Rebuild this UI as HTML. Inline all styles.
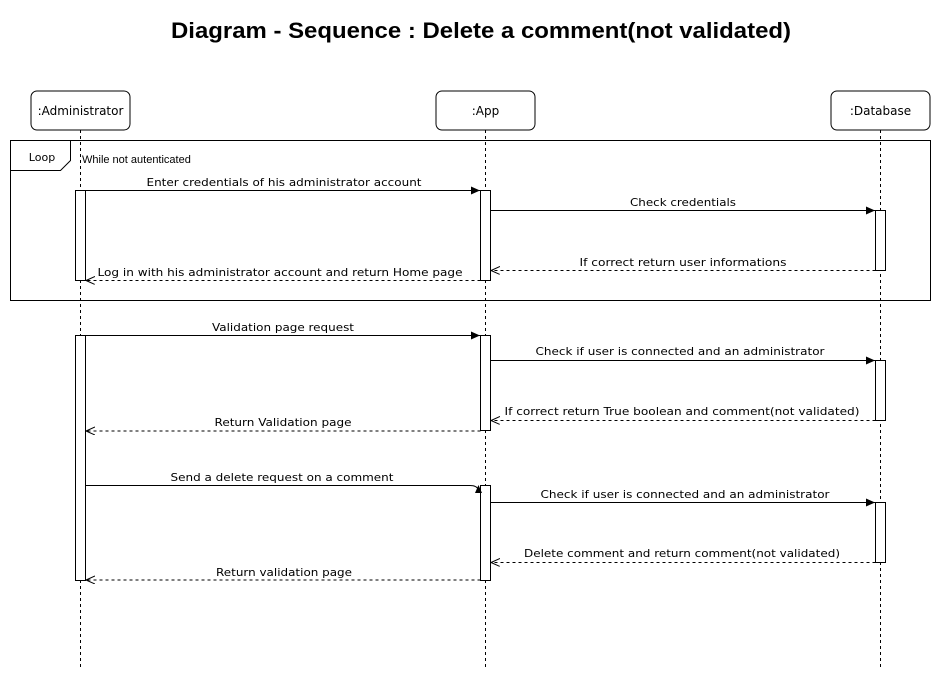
<!DOCTYPE html>
<html><head><style>body{margin:0;background:#fff}svg{display:block}</style></head><body>
<svg width="941" height="681" xmlns="http://www.w3.org/2000/svg" font-family="DejaVu Sans, Verdana, sans-serif" font-size="11">
<defs>
<marker id="f" markerWidth="10" markerHeight="10" refX="9" refY="4" orient="auto" markerUnits="userSpaceOnUse"><path d="M0,0 L9,4 L0,8 Z" fill="#000"/></marker>
<marker id="o" markerWidth="10" markerHeight="10" refX="9" refY="4" orient="auto" markerUnits="userSpaceOnUse"><path d="M0,0 L9,4 L0,8" fill="none" stroke="#000"/></marker>
</defs>
<text x="481" y="38" text-anchor="middle" font-family="Liberation Sans, Arial, sans-serif" font-weight="bold" font-size="22" textLength="620" lengthAdjust="spacingAndGlyphs">Diagram - Sequence : Delete a comment(not validated)</text>
<g fill="#fff" stroke="#000">
<rect x="31" y="91" width="99" height="39" rx="6"/>
<rect x="436" y="91" width="99" height="39" rx="6"/>
<rect x="831" y="91" width="99" height="39" rx="6"/>
</g>
<g font-size="12" text-anchor="middle">
<text x="80.5" y="115">:Administrator</text>
<text x="485.5" y="115">:App</text>
<text x="880.5" y="115">:Database</text>
</g>
<g stroke="#000" stroke-dasharray="3,3">
<line x1="80.5" y1="130" x2="80.5" y2="668"/>
<line x1="485.5" y1="130" x2="485.5" y2="668"/>
<line x1="880.5" y1="130" x2="880.5" y2="668"/>
</g>
<rect x="10.5" y="140.5" width="920" height="160" fill="none" stroke="#000"/>
<path d="M10.5,170.5 H60.5 L70.5,160.5 V140.5" fill="none" stroke="#000"/>
<text x="42" y="161" text-anchor="middle">Loop</text>
<text x="82" y="163" font-family="Liberation Sans, Arial, sans-serif" font-size="11">While not autenticated</text>
<g fill="#fff" stroke="#000">
<rect x="75.5" y="190.5" width="10" height="90"/>
<rect x="480.5" y="190.5" width="10" height="90"/>
<rect x="875.5" y="210.5" width="10" height="60"/>
<rect x="75.5" y="335.5" width="10" height="245"/>
<rect x="480.5" y="335.5" width="10" height="95"/>
<rect x="875.5" y="360.5" width="10" height="60"/>
<rect x="480.5" y="485.5" width="10" height="95"/>
<rect x="875.5" y="502.5" width="10" height="60"/>
</g>
<g stroke="#000" fill="none">
<line x1="85.5" y1="190.5" x2="480" y2="190.5" marker-end="url(#f)"/>
<line x1="490.5" y1="210.5" x2="875" y2="210.5" marker-end="url(#f)"/>
<line x1="875.5" y1="270.5" x2="491" y2="270.5" stroke-dasharray="3,3" marker-end="url(#o)"/>
<line x1="480.5" y1="280.5" x2="86" y2="280.5" stroke-dasharray="3,3" marker-end="url(#o)"/>
<line x1="85.5" y1="335.5" x2="480" y2="335.5" marker-end="url(#f)"/>
<line x1="490.5" y1="360.5" x2="875" y2="360.5" marker-end="url(#f)"/>
<line x1="875.5" y1="420.5" x2="491" y2="420.5" stroke-dasharray="3,3" marker-end="url(#o)"/>
<line x1="480.5" y1="431" x2="86" y2="431" stroke-dasharray="3,3" marker-end="url(#o)"/>
<path d="M85.5,485.5 H470 Q477,485.5 478.5,490"/>
<line x1="490.5" y1="502.5" x2="875" y2="502.5" marker-end="url(#f)"/>
<line x1="875.5" y1="562.5" x2="491" y2="562.5" stroke-dasharray="3,3" marker-end="url(#o)"/>
<line x1="480.5" y1="580" x2="86" y2="580" stroke-dasharray="3,3" marker-end="url(#o)"/>
</g>
<path d="M478.5,485 L482,493 L475,493 Z" fill="#000"/>
<g text-anchor="middle">
<text x="284" y="186" textLength="275" lengthAdjust="spacingAndGlyphs">Enter credentials of his administrator account</text>
<text x="683" y="206" textLength="106" lengthAdjust="spacingAndGlyphs">Check credentials</text>
<text x="683" y="266" textLength="207" lengthAdjust="spacingAndGlyphs">If correct return user informations</text>
<rect x="97" y="264" width="366" height="14" fill="#fff"/>
<text x="280" y="276" textLength="365" lengthAdjust="spacingAndGlyphs">Log in with his administrator account and return Home page</text>
<text x="283" y="331" textLength="142" lengthAdjust="spacingAndGlyphs">Validation page request</text>
<text x="680" y="355" textLength="289" lengthAdjust="spacingAndGlyphs">Check if user is connected and an administrator</text>
<text x="682" y="415" textLength="355" lengthAdjust="spacingAndGlyphs">If correct return True boolean and comment(not validated)</text>
<text x="283" y="426" textLength="137" lengthAdjust="spacingAndGlyphs">Return Validation page</text>
<text x="282" y="481" textLength="223" lengthAdjust="spacingAndGlyphs">Send a delete request on a comment</text>
<text x="685" y="498" textLength="289" lengthAdjust="spacingAndGlyphs">Check if user is connected and an administrator</text>
<text x="682" y="557" textLength="316" lengthAdjust="spacingAndGlyphs">Delete comment and return comment(not validated)</text>
<text x="284" y="576" textLength="136" lengthAdjust="spacingAndGlyphs">Return validation page</text>
</g>
</svg>
</body></html>
